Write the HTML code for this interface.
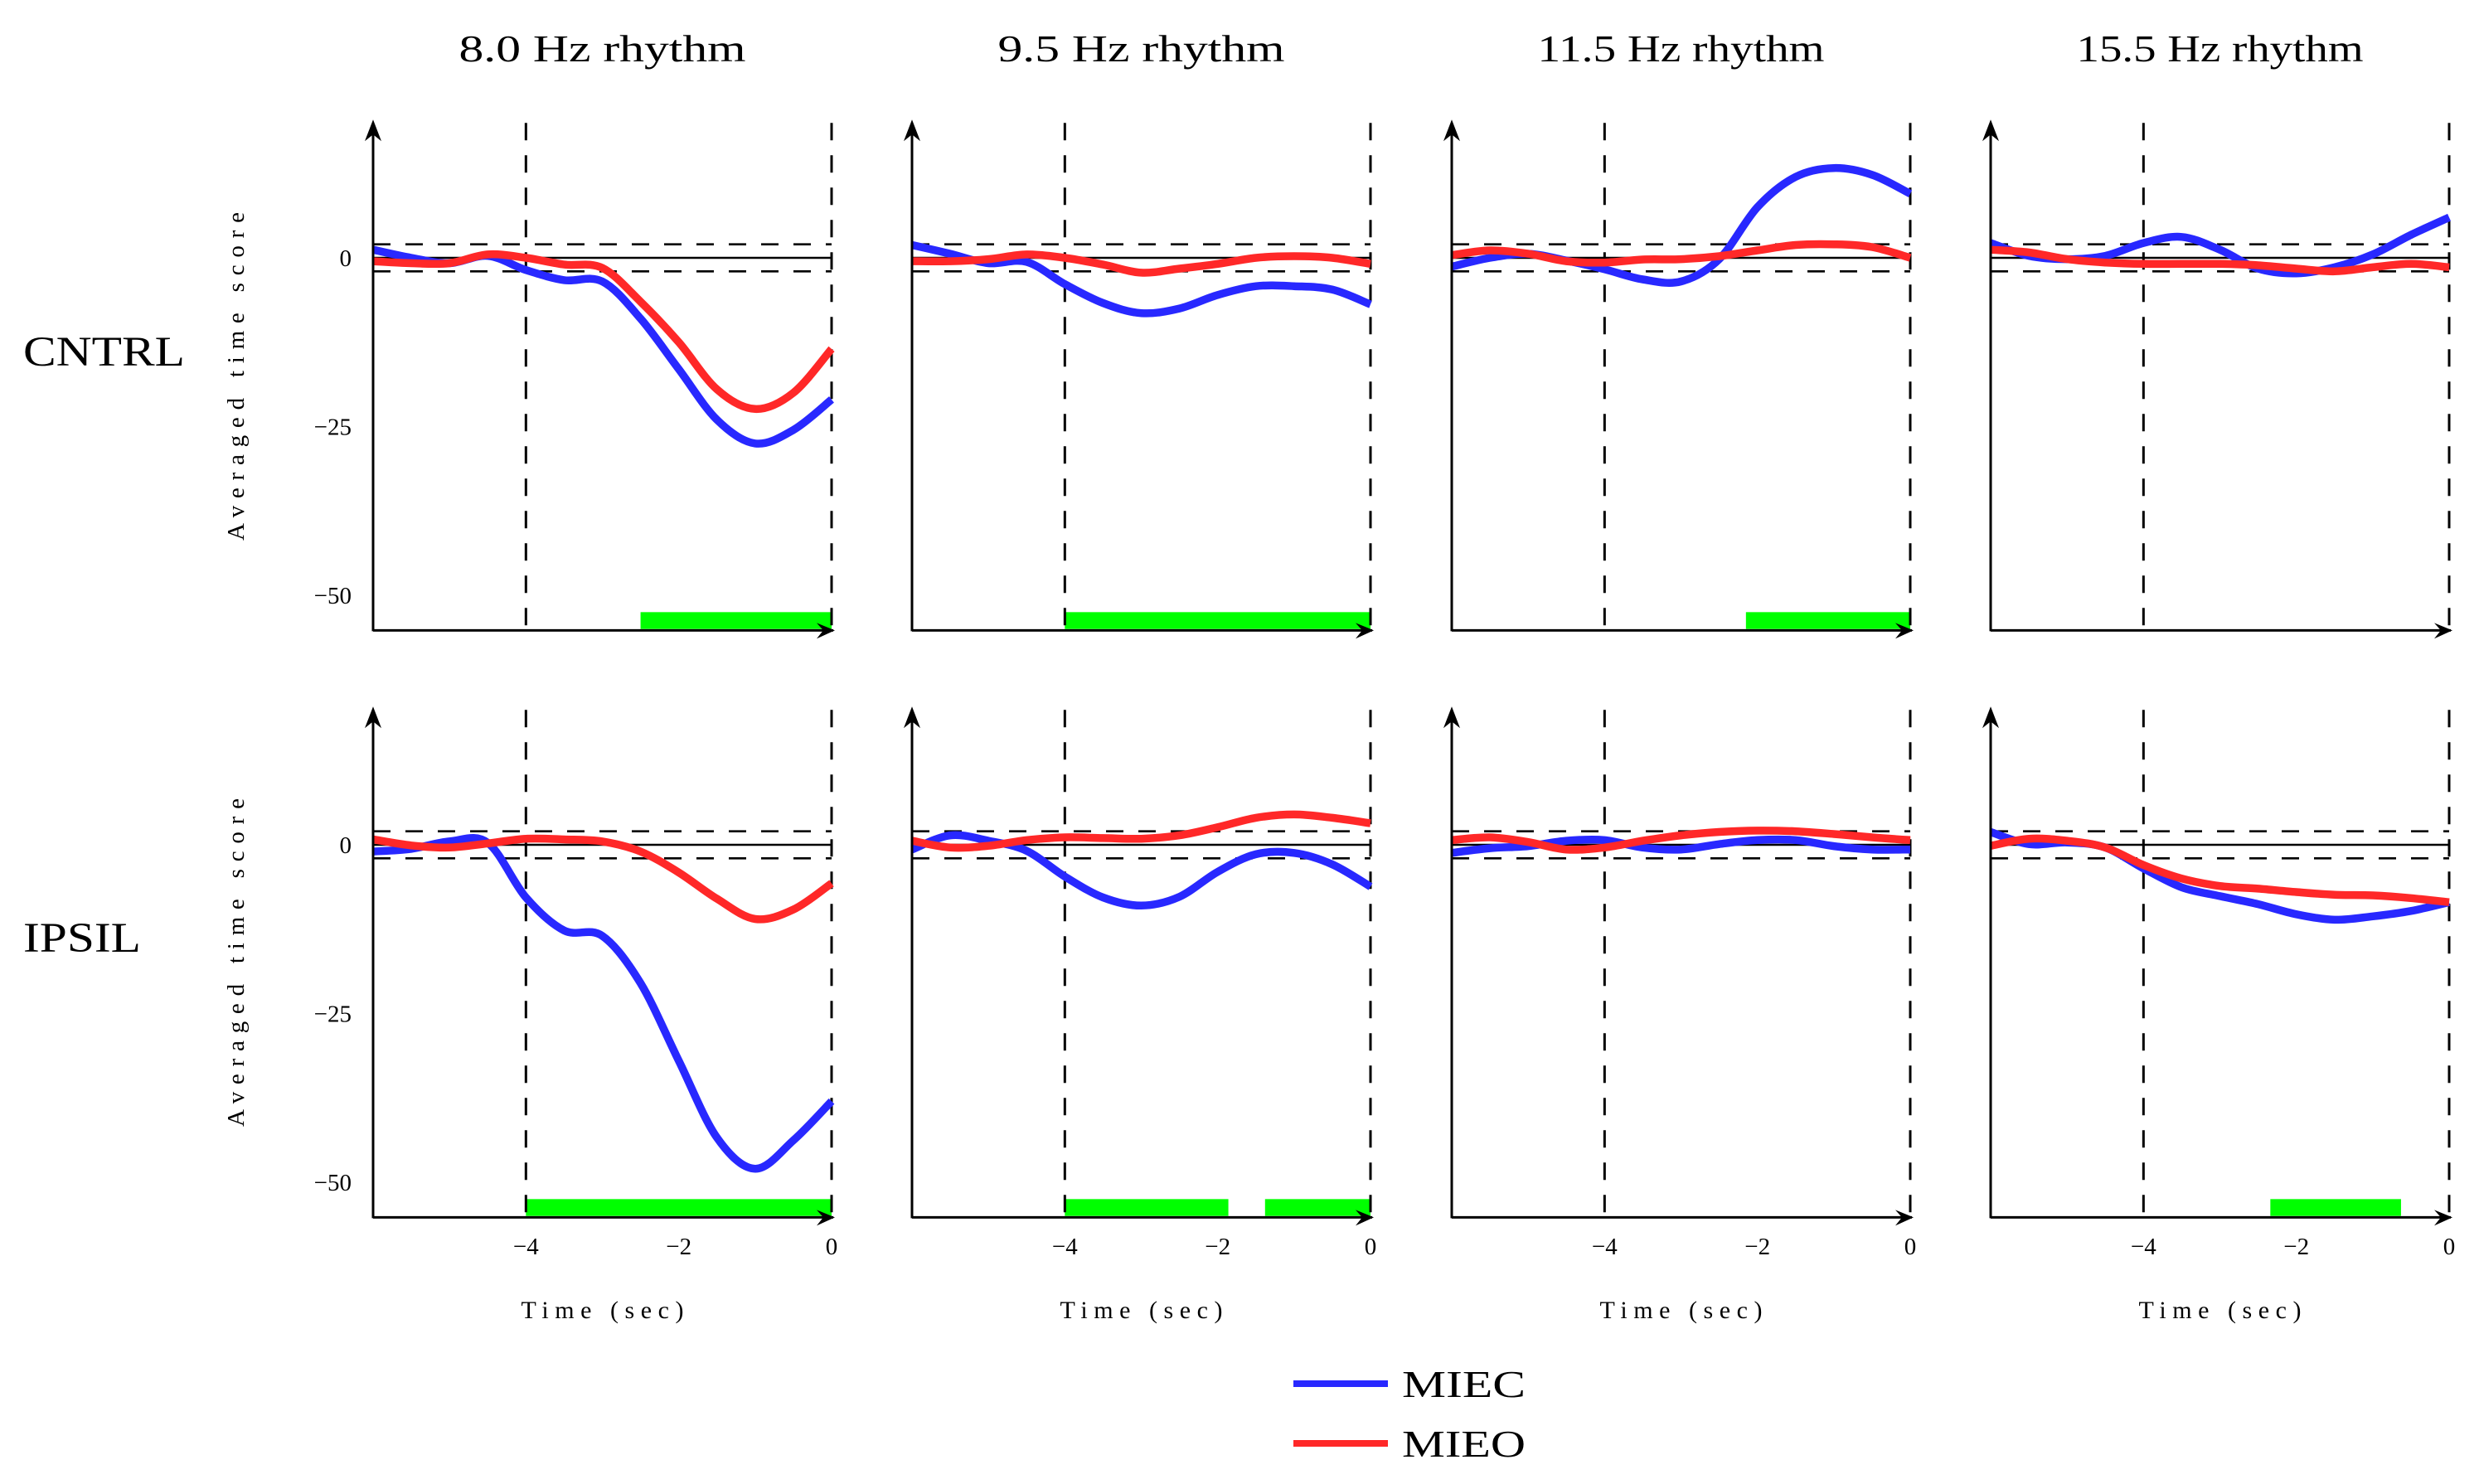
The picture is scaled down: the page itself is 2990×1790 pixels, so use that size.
<!DOCTYPE html>
<html><head><meta charset="utf-8">
<style>
html,body{margin:0;padding:0;background:#fff;}
svg{display:block;}
text{font-family:"Liberation Serif",serif;fill:#000;}
</style></head>
<body>
<svg id="chart" width="2990" height="1790" viewBox="0 0 2990 1790" xmlns="http://www.w3.org/2000/svg"></svg>
<script>
// ---- data ----
const times = [-6,-5.5,-5,-4.5,-4,-3.5,-3,-2.5,-2,-1.5,-1,-0.5,0];
const rhythms = ["8.0 Hz rhythm","9.5 Hz rhythm","11.5 Hz rhythm","15.5 Hz rhythm"];
const groups = ["CNTRL","IPSIL"];
const yTicks = [0,-25,-50];
const yTickLabels = ["0","\u221225","\u221250"];
const xTicks = [-4,-2,0];
const xTickLabels = ["\u22124","\u22122","0"];
// MIEC (blue) series
const miecC8 = [1.2,0,-0.8,0.3,-1.8,-3.3,-3.5,-9,-16.5,-24,-27.5,-25.5,-21];
const miecC9 = [1.9,0.6,-0.8,-0.6,-3.9,-6.7,-8.2,-7.5,-5.5,-4.2,-4.2,-4.7,-6.9];
const miecC11 = [-1.3,0,0.6,-0.4,-1.7,-3.2,-3.5,-0.2,7.5,12,13.3,12.3,9.5];
const miecC15 = [2.2,0.3,-0.2,0.3,2.2,3.1,1.2,-1.6,-2.3,-1.4,0.5,3.4,6];
const miecI8 = [-1,-0.6,0.5,0.3,-7.8,-12.7,-13.5,-20.5,-32,-43.4,-48,-43.8,-38];
const miecI9 = [-0.7,1.4,0.6,-0.9,-4.7,-7.8,-9,-7.7,-4,-1.4,-1.2,-2.9,-6.2];
const miecI11 = [-1.2,-0.5,-0.2,0.6,0.7,-0.4,-0.7,0.1,0.7,0.7,-0.2,-0.7,-0.7];
const miecI15 = [1.9,0.1,0.35,-0.4,-3.5,-6.3,-7.6,-8.8,-10.3,-11.1,-10.6,-9.8,-8.5];
// MIEO (red) series
const mieoC8 = [-0.5,-0.8,-0.8,0.5,0,-1,-1.5,-6.5,-12.5,-19.5,-22.4,-20,-13.5];
const mieoC9 = [-0.5,-0.5,-0.2,0.5,0,-1,-2.2,-1.6,-0.9,0,0.25,0,-0.9];
const mieoC11 = [0.4,1.1,0.6,-0.5,-0.7,-0.25,-0.2,0.25,1.1,1.9,2,1.6,0];
const mieoC15 = [1.2,0.8,-0.2,-0.7,-0.9,-0.9,-0.9,-1.1,-1.6,-2,-1.4,-0.9,-1.4];
const mieoI8 = [0.8,-0.1,-0.4,0.2,0.9,0.8,0.5,-1,-4.1,-8,-11,-9.6,-5.7];
const mieoI9 = [0.6,-0.4,-0.15,0.7,1.1,1,0.9,1.4,2.6,4,4.5,4,3.2];
const mieoI11 = [0.7,1.1,0.4,-0.7,-0.4,0.6,1.4,1.9,2.1,2,1.6,1.1,0.7];
const mieoI15 = [-0.15,0.9,0.6,-0.4,-3,-5,-6.1,-6.5,-7,-7.4,-7.5,-7.9,-8.5];
// significance bars [start, end] in seconds
const sigC8 = [[-2.5,0]];
const sigC9 = [[-4,0]];
const sigC11 = [[-2.15,0]];
const sigC15 = [];
const sigI8 = [[-4,0]];
const sigI9 = [[-4,-1.86],[-1.38,0]];
const sigI11 = [];
const sigI15 = [[-2.34,-0.63]];

const miec = [[miecC8,miecC9,miecC11,miecC15],[miecI8,miecI9,miecI11,miecI15]];
const mieo = [[mieoC8,mieoC9,mieoC11,mieoC15],[mieoI8,mieoI9,mieoI11,mieoI15]];
const sig = [[sigC8,sigC9,sigC11,sigC15],[sigI8,sigI9,sigI11,sigI15]];

// ---- layout ----
const NS = "http://www.w3.org/2000/svg";
const svg = document.getElementById('chart');
const colX = [450,1100,1751,2401];
const rowZero = [311,1019];
const PW = 553, PXS = PW/6, PYS = 8.14;
const BLUE = "#2828ff", RED = "#ff2828", GREEN = "#00ff00";

function mk(tag, attrs, parent){
  const e = document.createElementNS(NS, tag);
  for (const k in attrs) e.setAttribute(k, attrs[k]);
  (parent||svg).appendChild(e);
  return e;
}
function smooth(pts){
  let d = "M"+pts[0][0].toFixed(1)+","+pts[0][1].toFixed(1);
  for (let i=0;i<pts.length-1;i++){
    const p0=pts[Math.max(0,i-1)], p1=pts[i], p2=pts[i+1], p3=pts[Math.min(pts.length-1,i+2)];
    const c1x=p1[0]+(p2[0]-p0[0])/6, c1y=p1[1]+(p2[1]-p0[1])/6;
    const c2x=p2[0]-(p3[0]-p1[0])/6, c2y=p2[1]-(p3[1]-p1[1])/6;
    d += " C"+c1x.toFixed(1)+","+c1y.toFixed(1)+" "+c2x.toFixed(1)+","+c2y.toFixed(1)+" "+p2[0].toFixed(1)+","+p2[1].toFixed(1);
  }
  return d;
}

for (let r=0;r<2;r++){
  for (let c=0;c<4;c++){
    const x0 = colX[c];
    const xs = t => x0 + (t+6)*PXS;
    const ys = v => rowZero[r] - v*PYS;
    const g = mk('g', {});
    
    
    const top = ys(20), bot = ys(-55.2);
    sig[r][c].forEach(s=>{
      const b = mk('rect', {x:xs(s[0]), y:ys(-52.5), width:xs(s[1])-xs(s[0]), height:ys(-55)-ys(-52.5), fill:GREEN}, g);
      
      
    });
    [-4,0].forEach(t=>{
      const l = mk('line', {x1:xs(t), x2:xs(t), y1:top, y2:bot, stroke:"#000", 'stroke-width':3, 'stroke-dasharray':"21 18"}, g);
      
      
    });
    [2,-2].forEach(v=>{
      const l = mk('line', {x1:xs(-6), x2:xs(0), y1:ys(v), y2:ys(v), stroke:"#000", 'stroke-width':2.6, 'stroke-dasharray':"21 18"}, g);
      
      
    });
    const z = mk('line', {x1:xs(-6), x2:xs(0), y1:ys(0), y2:ys(0), stroke:"#000", 'stroke-width':2.6}, g);
    
    
    const pb = mk('path', {d:smooth(times.map((t,i)=>[xs(t),ys(miec[r][c][i])])), fill:"none", stroke:BLUE, 'stroke-width':9.5, 'stroke-linejoin':"round"}, g);
    
    
    const pr = mk('path', {d:smooth(times.map((t,i)=>[xs(t),ys(mieo[r][c][i])])), fill:"none", stroke:RED, 'stroke-width':9.5, 'stroke-linejoin':"round"}, g);
    
    
    const ya = mk('line', {x1:x0, x2:x0, y1:bot+1, y2:top+6, stroke:"#000", 'stroke-width':3}, g);
    
    
    const yh = mk('path', {d:`M${x0},${top-4} L${x0-10},${top+22} L${x0},${top+14} L${x0+10},${top+22} Z`, fill:"#000"}, g);
    
    
    const xa = mk('line', {x1:x0, x2:xs(0)+2, y1:bot, y2:bot, stroke:"#000", 'stroke-width':3}, g);
    
    
    const xr = xs(0)+4;
    const xh = mk('path', {d:`M${xr},${bot} L${xr-22},${bot-9} L${xr-14},${bot} L${xr-22},${bot+10} Z`, fill:"#000"}, g);
    
    
    if (c===0){
      yTicks.forEach((v,i)=>{
        const t = mk('text', {x:424, y:ys(v)+10, 'text-anchor':"end", 'font-size':29}, g);
        t.textContent = yTickLabels[i];
        
        
      });
      const cy = r===0 ? 454 : 1161;
      const yl = mk('text', {x:0, y:0, transform:`translate(294,${cy}) rotate(-90)`, 'text-anchor':"middle", 'font-size':29, textLength:396, lengthAdjust:"spacing"}, g);
      yl.textContent = "Averaged time score";
      
      
    }
    if (r===1){
      xTicks.forEach((v,i)=>{
        const t = mk('text', {x:xs(v), y:1513, 'text-anchor':"middle", 'font-size':29}, g);
        t.textContent = xTickLabels[i];
        
        
      });
      const xl = mk('text', {x:xs(-3), y:1590, 'text-anchor':"middle", 'font-size':30, textLength:196, lengthAdjust:"spacing"}, g);
      xl.textContent = "Time (sec)";
      
      
    }
    if (r===0){
      const tt = mk('text', {x:xs(-3), y:74, 'text-anchor':"middle", 'font-size':46, textLength:346, lengthAdjust:"spacingAndGlyphs"}, g);
      tt.textContent = rhythms[c];
      
      
    }
  }
}
const rl1 = mk('text', {x:28, y:441, 'font-size':51, textLength:195, lengthAdjust:"spacingAndGlyphs"});
rl1.textContent = "CNTRL";


const rl2 = mk('text', {x:28, y:1148, 'font-size':51, textLength:142, lengthAdjust:"spacingAndGlyphs"});
rl2.textContent = "IPSIL";


const lg = mk('g', {});


const legNames = ["MIEC","MIEO"], legColors = [BLUE, RED], legY = [1669,1741];
legNames.forEach((n,i)=>{
  const l = mk('line', {x1:1560, x2:1674, y1:legY[i], y2:legY[i], stroke:legColors[i], 'stroke-width':8}, lg);
  
  
  const t = mk('text', {x:1691, y:legY[i]+16, 'font-size':46, textLength:149, lengthAdjust:"spacingAndGlyphs"}, lg);
  t.textContent = n;
  
  
});
</script>
</body></html>
